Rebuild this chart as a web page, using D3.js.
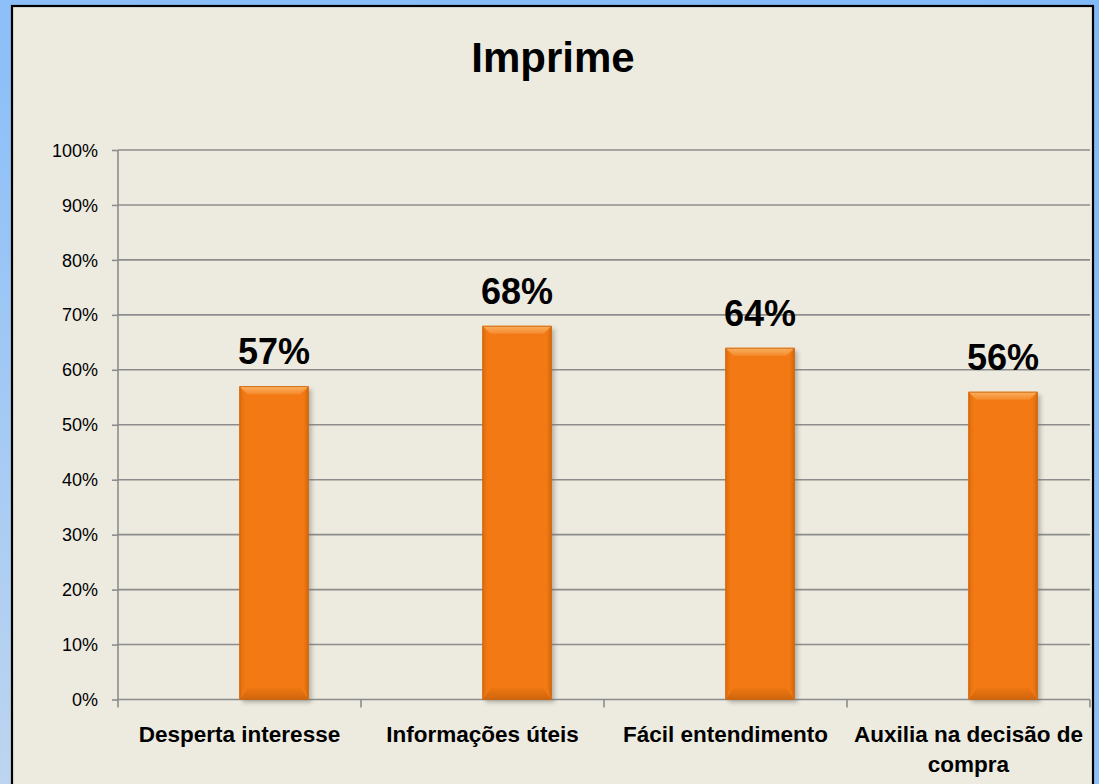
<!DOCTYPE html>
<html>
<head>
<meta charset="utf-8">
<script src="https://cdn.jsdelivr.net/npm/d3@7"></script>
<style>
  html, body { margin: 0; padding: 0; background: #8dc0fb; }
  svg { display: block; }
  text { font-family: "Liberation Sans", Arial, sans-serif; }
</style>
</head>
<body>
<svg id="chart" width="1099" height="784"></svg>
<script>
// Survey results: share of respondents per attribute of the printed material
const chartTitle = "Imprime";
const categories = ["Desperta interesse", "Informações úteis", "Fácil entendimento", "Auxilia na decisão de compra"];
const values = [57, 68, 64, 56];
const yTickValues = [0, 10, 20, 30, 40, 50, 60, 70, 80, 90, 100];
// clustered layout: an empty slot sits before each visible bar
const seriesSlots = ["vazio", "Imprime"];

const W = 1099, H = 784;
const svg = d3.select("#chart");
const defs = svg.append("defs");

// page background
const bg = defs.append("linearGradient").attr("id", "bgGrad")
  .attr("x1", 1).attr("y1", 0).attr("x2", 0).attr("y2", 1);
bg.append("stop").attr("offset", 0).attr("stop-color", "#82b9f8");
bg.append("stop").attr("offset", 0.55).attr("stop-color", "#8ec0f8");
bg.append("stop").attr("offset", 1).attr("stop-color", "#bdd5ef");
svg.append("rect").attr("width", W).attr("height", H).attr("fill", "url(#bgGrad)");

// chart panel
svg.append("rect")
  .attr("x", 12).attr("y", 6).attr("width", 1081).attr("height", H + 20)
  .attr("fill", "#edebe0").attr("stroke", "#000").attr("stroke-width", 2.2);

// title
svg.append("text")
  .attr("x", 553).attr("y", 72)
  .attr("text-anchor", "middle")
  .attr("font-size", 42).attr("font-weight", "bold").attr("fill", "#000")
  .text(chartTitle);

const plot = { left: 118, right: 1090, top: 150, bottom: 699.5 };

const y = d3.scaleLinear().domain([0, 100]).range([plot.bottom, plot.top]);
const x0 = d3.scaleBand().domain(categories)
  .range([plot.left, plot.right]).paddingInner(0.432).paddingOuter(0.216);
const x1 = d3.scaleBand().domain(seriesSlots).range([0, x0.bandwidth()]);
const step = x0.step();

// gridlines
svg.append("g").selectAll("line").data(yTickValues.filter(d => d > 0)).join("line")
  .attr("x1", plot.left).attr("x2", plot.right)
  .attr("y1", d => y(d)).attr("y2", d => y(d))
  .attr("stroke", "#8c8c8c").attr("stroke-width", 1.6);

// y axis
const yAxis = svg.append("g").attr("transform", `translate(${plot.left},0)`)
  .call(d3.axisLeft(y).tickValues(yTickValues).tickSize(6).tickPadding(14)
    .tickFormat(d => d + "%"));
yAxis.select(".domain").remove();
yAxis.selectAll(".tick line").attr("stroke", "#8c8c8c").attr("stroke-width", 1.6);
yAxis.selectAll(".tick text").attr("font-size", 18).attr("fill", "#000")
  .attr("font-family", "'Liberation Sans', Arial, sans-serif").attr("dy", "0.34em");
svg.append("line")
  .attr("x1", plot.left).attr("x2", plot.left)
  .attr("y1", plot.top).attr("y2", plot.bottom + 8)
  .attr("stroke", "#8c8c8c").attr("stroke-width", 1.6);

// x axis baseline and category separators
svg.append("line")
  .attr("x1", plot.left).attr("x2", plot.right)
  .attr("y1", y(0)).attr("y2", y(0))
  .attr("stroke", "#8c8c8c").attr("stroke-width", 1.6);
const boundaries = d3.range(categories.length + 1).map(i => plot.left + i * step);
svg.append("g").selectAll("line").data(boundaries.slice(1)).join("line")
  .attr("x1", d => d).attr("x2", d => d)
  .attr("y1", y(0)).attr("y2", y(0) + 8)
  .attr("stroke", "#8c8c8c").attr("stroke-width", 1.6);

// bar shading
const shadowF = defs.append("filter").attr("id", "barShadow")
  .attr("x", "-20%").attr("y", "-10%").attr("width", "150%").attr("height", "130%");
shadowF.append("feGaussianBlur").attr("stdDeviation", 2.2);

const topG = defs.append("linearGradient").attr("id", "topGrad")
  .attr("x1", 0).attr("y1", 0).attr("x2", 0).attr("y2", 1);
topG.append("stop").attr("offset", 0).attr("stop-color", "#fbb262");
topG.append("stop").attr("offset", 1).attr("stop-color", "#f4892b");

const botG = defs.append("linearGradient").attr("id", "botGrad")
  .attr("x1", 0).attr("y1", 0).attr("x2", 0).attr("y2", 1);
botG.append("stop").attr("offset", 0).attr("stop-color", "#ec7511");
botG.append("stop").attr("offset", 1).attr("stop-color", "#d0660d");

const sideL = defs.append("linearGradient").attr("id", "sideL")
  .attr("x1", 0).attr("y1", 0).attr("x2", 1).attr("y2", 0);
sideL.append("stop").attr("offset", 0).attr("stop-color", "#e06c0c");
sideL.append("stop").attr("offset", 1).attr("stop-color", "#f07812");

const sideR = defs.append("linearGradient").attr("id", "sideR")
  .attr("x1", 0).attr("y1", 0).attr("x2", 1).attr("y2", 0);
sideR.append("stop").attr("offset", 0).attr("stop-color", "#f07812");
sideR.append("stop").attr("offset", 1).attr("stop-color", "#d8680c");

const bev = 8;
const bars = svg.append("g").selectAll("g").data(categories.map((c, i) => ({ c, v: values[i] })))
  .join("g")
  .attr("transform", d => `translate(${x0(d.c) + x1("Imprime")},0)`);

const bw = x1.bandwidth();
bars.append("rect")
  .attr("x", 3).attr("y", d => y(d.v) + 3)
  .attr("width", bw).attr("height", d => y(0) - y(d.v))
  .attr("fill", "#6e6a60").attr("opacity", 0.45).attr("filter", "url(#barShadow)");
bars.append("rect")
  .attr("x", 0).attr("y", d => y(d.v))
  .attr("width", bw).attr("height", d => y(0) - y(d.v))
  .attr("fill", "#f27913");
bars.append("path").attr("fill", "url(#topGrad)")
  .attr("d", d => { const t = y(d.v); return `M0,${t}H${bw}L${bw - bev},${t + bev}H${bev}Z`; });
bars.append("path").attr("fill", "url(#botGrad)")
  .attr("d", d => { const b = y(0); return `M0,${b}H${bw}L${bw - bev},${b - bev * 1.4}H${bev}Z`; });
bars.append("path").attr("fill", "url(#sideL)")
  .attr("d", d => { const t = y(d.v), b = y(0); return `M0,${t}L${bev * 0.6},${t + bev}V${b - bev * 1.4}L0,${b}Z`; });
bars.append("path").attr("fill", "url(#sideR)")
  .attr("d", d => { const t = y(d.v), b = y(0); return `M${bw},${t}L${bw - bev * 0.6},${t + bev}V${b - bev * 1.4}L${bw},${b}Z`; });
bars.append("rect")
  .attr("x", 0.4).attr("y", d => y(d.v) + 0.4)
  .attr("width", bw - 0.8).attr("height", d => y(0) - y(d.v) - 0.8)
  .attr("fill", "none").attr("stroke", "#c9620c").attr("stroke-width", 0.8);

// value labels
bars.append("text")
  .attr("x", bw / 2).attr("y", d => y(d.v) - 22)
  .attr("text-anchor", "middle")
  .attr("font-size", 36).attr("font-weight", "bold").attr("fill", "#000")
  .text(d => d.v + "%");

// category labels, wrapped to the category width
const catG = svg.append("g");
categories.forEach((c, i) => {
  const cx = plot.left + (i + 0.5) * step;
  const t = catG.append("text")
    .attr("x", cx).attr("y", 742)
    .attr("text-anchor", "middle")
    .attr("font-size", 22.5).attr("font-weight", "bold").attr("fill", "#000");
  const words = c.split(" ");
  let line = [];
  let tspan = t.append("tspan").attr("x", cx).attr("dy", 0);
  words.forEach(w => {
    line.push(w);
    tspan.text(line.join(" "));
    if (tspan.node().getComputedTextLength() > step - 8 && line.length > 1) {
      line.pop();
      tspan.text(line.join(" "));
      line = [w];
      tspan = t.append("tspan").attr("x", cx).attr("dy", 30).text(w);
    }
  });
});
</script>
</body>
</html>
